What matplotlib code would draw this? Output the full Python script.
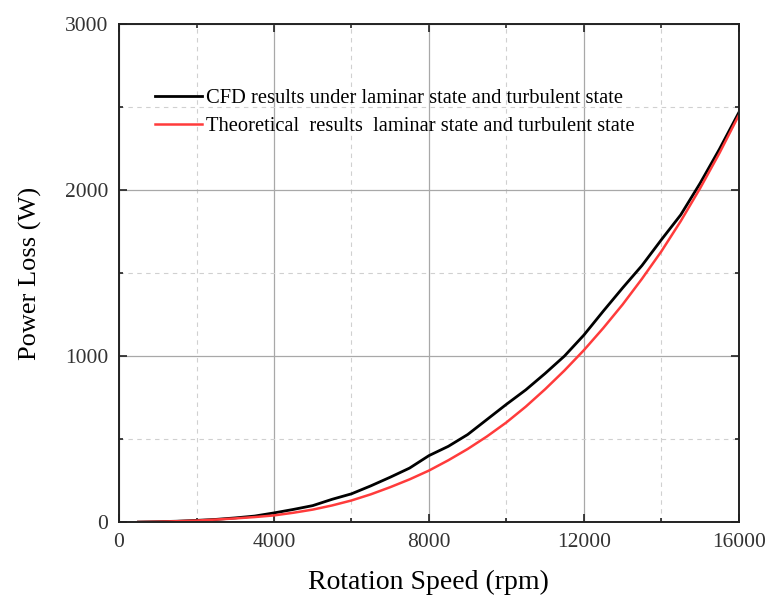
import matplotlib
matplotlib.use('Agg')
import matplotlib.pyplot as plt
from matplotlib.ticker import MultipleLocator

# rotation speed (rpm)
speed = [500, 1000, 1500, 2000, 2500, 3000, 3500, 4000, 4500, 5000, 5500, 6000,
         6500, 7000, 7500, 8000, 8500, 9000, 9500, 10000, 10500, 11000, 11500,
         12000, 12500, 13000, 13500, 14000, 14500, 15000, 15500, 16000]

# power loss (W)
cfd_loss = [0, 2, 5, 10, 16, 25, 36, 55, 76, 99, 137, 170, 218, 270, 325, 400,
            456, 527, 618, 709, 796, 895, 1000, 1126, 1270, 1410, 1545, 1700,
            1850, 2040, 2246, 2466]
theory_loss = [0, 2, 5, 9, 15, 22, 30, 40, 56, 75, 100, 130, 167, 210, 257, 310,
               372, 440, 516, 600, 695, 800, 913, 1035, 1168, 1310, 1465, 1630,
               1812, 2010, 2222, 2450]

labels = ['CFD results under laminar state and turbulent state',
          'Theoretical  results  laminar state and turbulent state']

plt.rcParams['font.family'] = ['Liberation Serif', 'DejaVu Serif']

fig = plt.figure(figsize=(7.68, 5.98), dpi=100)
ax = fig.add_axes([0.155, 0.127, 0.807, 0.833])

ax.plot(speed, cfd_loss, color='black', lw=2, label=labels[0])
ax.plot(speed, theory_loss, color='#ff3b3b', lw=1.8, label=labels[1])

ax.set_xlim(0, 16000)
ax.set_ylim(0, 3000)
ax.xaxis.set_major_locator(MultipleLocator(4000))
ax.xaxis.set_minor_locator(MultipleLocator(2000))
ax.yaxis.set_major_locator(MultipleLocator(1000))
ax.yaxis.set_minor_locator(MultipleLocator(500))

ax.grid(which='major', color='#a8a8a8', lw=0.9, ls='-')
ax.grid(which='minor', color='#d0d0d0', lw=0.8, ls=(0, (4, 4)))
ax.set_axisbelow(True)

ax.tick_params(which='both', direction='in', top=True, right=True,
               width=1.2, color='#222222')
ax.tick_params(which='major', length=6, pad=8, labelsize=15.5,
               labelcolor='#333333')
ax.tick_params(which='minor', length=3)
for s in ax.spines.values():
    s.set_linewidth(1.4)
    s.set_color('#222222')

ax.set_xlabel('Rotation Speed (rpm)', fontsize=20, labelpad=13)
ax.set_ylabel('Power Loss (W)', fontsize=19, labelpad=16)

ax.legend(loc='upper left', bbox_to_anchor=(0.045, 0.887), frameon=False,
          fontsize=14.8, handlelength=2.3, handletextpad=0.15,
          labelspacing=0.42, borderaxespad=0)

fig.savefig('out.png', dpi=100)
